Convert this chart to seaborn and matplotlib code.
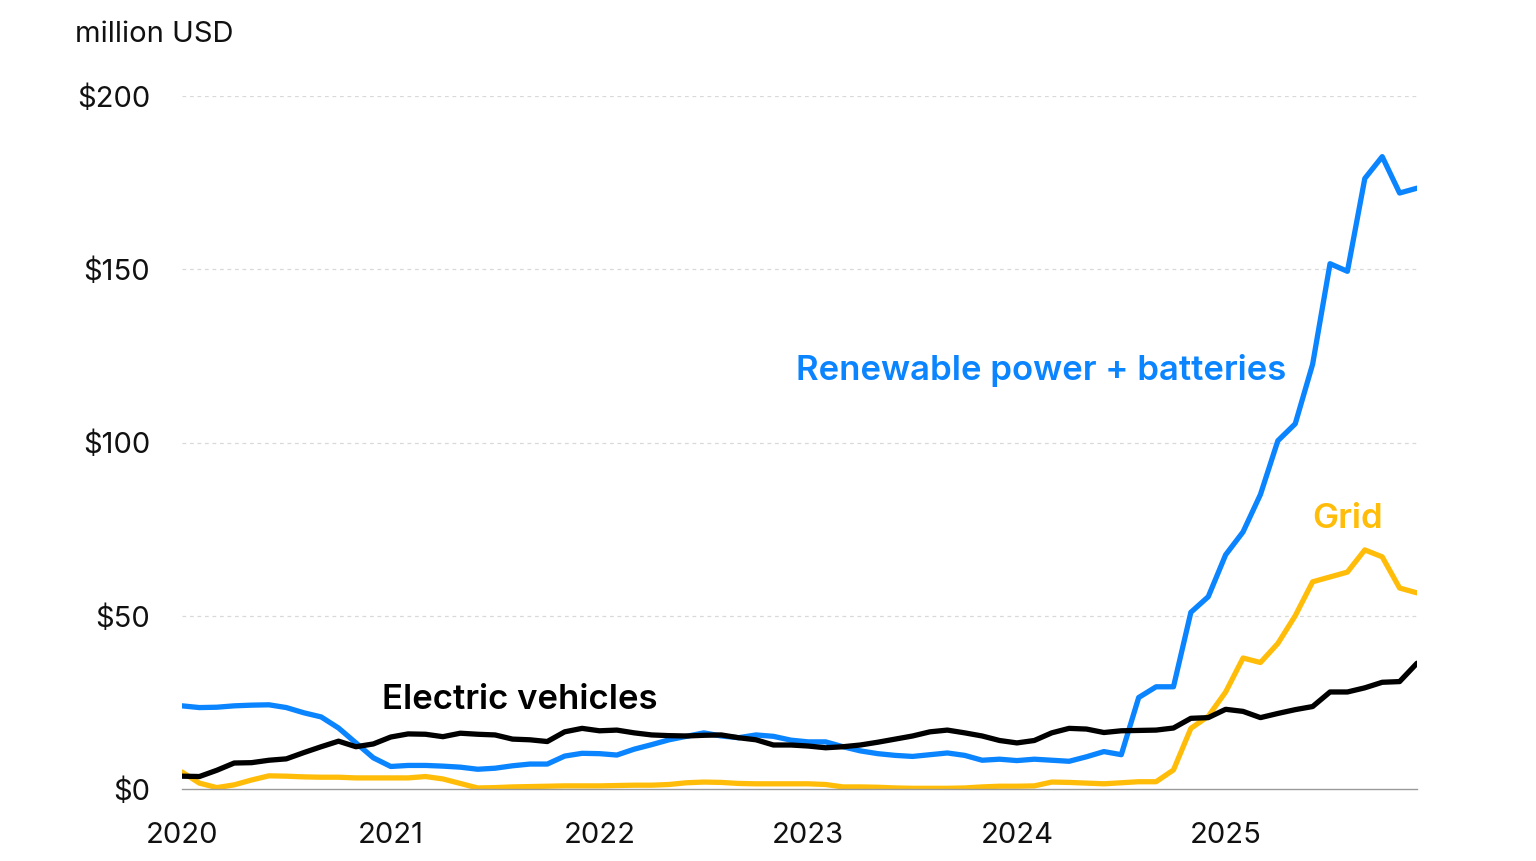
import numpy as np
import pandas as pd
import matplotlib
matplotlib.use("Agg")
import matplotlib.pyplot as plt
import seaborn as sns

# Monthly values, Jan 2020 - Dec 2025 (million USD)
renewables = [24, 23.5, 23.6, 24, 24.2, 24.3, 23.5, 22, 20.8, 17.6, 13.3, 9,
              6.5, 6.8, 6.8, 6.6, 6.3, 5.7, 6.0, 6.7, 7.2, 7.2, 9.5, 10.3,
              10.2, 9.8, 11.5, 12.8, 14.2, 15.2, 16.2, 15.3, 14.8, 15.6, 15.2, 14.1,
              13.6, 13.6, 12.2, 11.0, 10.2, 9.7, 9.4, 9.9, 10.4, 9.7, 8.3, 8.6,
              8.2, 8.6, 8.3, 8.0, 9.3, 10.8, 9.9, 26.4, 29.5, 29.5, 51, 55.5,
              67.6, 74.2, 85, 100.5, 105.4, 122.6, 151.6, 149.4, 176.2, 182.5, 172, 173.4]
grid = [4.9, 1.7, 0.4, 1.2, 2.6, 3.8, 3.7, 3.5, 3.4, 3.4, 3.2, 3.2,
        3.2, 3.2, 3.6, 2.9, 1.6, 0.3, 0.4, 0.6, 0.7, 0.8, 0.9, 0.9,
        0.9, 1.0, 1.1, 1.1, 1.3, 1.8, 2.0, 1.9, 1.6, 1.5, 1.5, 1.5,
        1.5, 1.3, 0.6, 0.6, 0.5, 0.3, 0.2, 0.2, 0.2, 0.3, 0.6, 0.8,
        0.8, 0.9, 2.0, 1.9, 1.7, 1.5, 1.8, 2.1, 2.1, 5.5, 17.5, 21,
        28, 37.8, 36.5, 42, 50, 59.8, 61.2, 62.6, 69, 67, 58, 56.6]
ev = [3.7, 3.6, 5.4, 7.5, 7.6, 8.3, 8.7, 10.5, 12.2, 13.8, 12.2, 13,
      15, 15.9, 15.8, 15.1, 16.1, 15.8, 15.6, 14.4, 14.2, 13.7, 16.5, 17.5,
      16.8, 17, 16.2, 15.6, 15.4, 15.3, 15.5, 15.6, 14.8, 14.2, 12.7, 12.7,
      12.4, 11.9, 12.2, 12.7, 13.5, 14.4, 15.3, 16.5, 17, 16.2, 15.3, 14,
      13.3, 14, 16.2, 17.5, 17.3, 16.3, 16.8, 16.9, 17, 17.6, 20.4, 20.6,
      23, 22.4, 20.6, 21.8, 22.9, 23.8, 28, 28, 29.2, 30.8, 31, 36.3]

series_names = ["Renewable power + batteries", "Grid", "Electric vehicles"]
colors = ["#0A84FF", "#FFBD0A", "#000000"]
year_ticks = [2020, 2021, 2022, 2023, 2024, 2025]
y_ticks = [0, 50, 100, 150, 200]
y_labels = ["$0", "$50", "$100", "$150", "$200"]

t = 2020 + np.arange(72) / 12.0
df = pd.DataFrame({
    "t": np.concatenate([t, t, t]),
    "value": np.concatenate([renewables, grid, ev]),
    "series": np.repeat(series_names, 72),
})

sns.set_theme(style="white")
plt.rcParams["font.family"] = ["Inter", "DejaVu Sans"]

fig = plt.figure(figsize=(15.36, 8.61), dpi=100)
ax = fig.add_axes([182/1536, 72/861, (1417-182)/1536, (789-96)/861])

sns.lineplot(data=df, x="t", y="value", hue="series", hue_order=series_names,
             palette=colors, linewidth=3.8, ax=ax, legend=False)

ax.set_xlim(2020, 2020 + 71/12)
ax.set_ylim(0, 200)
ax.set_xlabel("")
ax.set_ylabel("")

for v in y_ticks[1:]:
    ax.axhline(v, color="#d9d9d9", linestyle=(0, (3, 3)), linewidth=0.9, zorder=0)

ax.set_yticks(y_ticks)
ax.set_yticklabels(y_labels, fontsize=21, color="#111111")
ax.tick_params(axis="y", length=0, pad=23)
ax.set_xticks(year_ticks)
ax.set_xticklabels([str(y) for y in year_ticks], fontsize=21, color="#111111")
ax.tick_params(axis="x", length=8, width=1, color="#9a9a9a", pad=16)

for s in ["top", "right", "left"]:
    ax.spines[s].set_visible(False)
ax.spines["bottom"].set_color("#9a9a9a")
ax.spines["bottom"].set_linewidth(1)
ax.set_clip_on(False)

fig.text(75/1536, 1 - 34/861, "million USD", fontsize=21, color="#111111",
         ha="left", va="center")

ax.text(2020 + (1042-182)/209, 120.9, "Renewable power + batteries", color=colors[0],
        fontsize=25, fontweight="semibold", ha="center", va="center")
ax.text(2020 + (1349-182)/209, 77.9, "Grid", color=colors[1],
        fontsize=25, fontweight="semibold", ha="center", va="center")
ax.text(2020 + (520-182)/209, 25.6, "Electric vehicles", color=colors[2],
        fontsize=25, fontweight="semibold", ha="center", va="center")

fig.savefig("out.png", dpi=100, facecolor="white")
